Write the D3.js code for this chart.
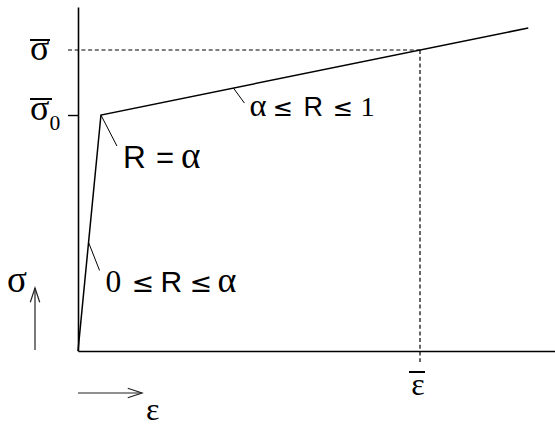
<!DOCTYPE html>
<html>
<head>
<meta charset="utf-8">
<script src="https://cdn.jsdelivr.net/npm/d3@7"></script>
<style>
  html, body { margin: 0; padding: 0; background: #fff; }
  svg { display: block; }
  .serif { font-family: "Liberation Serif", "DejaVu Serif", serif; }
  .sans { font-family: "Liberation Sans", Arial, sans-serif; }
  .rel { font-family: "DejaVu Sans", sans-serif; }
</style>
</head>
<body>
<svg id="chart" width="555" height="426"></svg>
<script>
// Bilinear stress–strain curve (normalised units)
const strain = [0, 0.048, 0.942];      // origin, yield, end of hardening branch
const stress = [0, 0.686, 0.939];
const strainBar = 0.7155;              // ε̄
const stressBar = 0.875;               // σ̄
const stressYield = stress[1];         // σ̄0

// Segment labels: segment index, position along it,
// text pieces as [text, font class, x offset, size factor]
const segLabels = [
  { seg: 0, t: 0.46, size: 30, dx: 11, dy: 28, tx: 17, ty: 50,
    parts: [["0", "serif", 0, 1.05], ["≤", "rel", 26, 0.9], ["R", "sans", 55, 1], ["≤", "rel", 84, 0.9], ["α", "serif", 112, 1.2]] },
  { seg: 0, t: 1.0, size: 31, dx: 16, dy: 31, tx: 22, ty: 53,
    parts: [["R", "sans", 0, 1.02], ["=", "sans", 33, 1], ["α", "serif", 58, 1.2]] },
  { seg: 1, t: 0.31, size: 27, dx: 11, dy: 15, tx: 16, ty: 28,
    parts: [["α", "serif", 0, 1.2], ["≤", "rel", 23, 0.9], ["R", "sans", 54, 1], ["≤", "rel", 83, 0.9], ["1", "serif", 111, 1.05]] }
];

const svg = d3.select("#chart");
const x = d3.scaleLinear().domain([0, 1]).range([78, 556]);
const y = d3.scaleLinear().domain([0, 1]).range([351, 7]);

// Axes
const yAxis = d3.axisLeft(y).tickValues([stressYield]).tickSize(10).tickSizeOuter(0).tickFormat("");
const xAxis = d3.axisBottom(x).tickValues([]).tickSizeOuter(0);
const gy = svg.append("g").attr("transform", `translate(${x(0)},0)`).call(yAxis);
const gx = svg.append("g").attr("transform", `translate(0,${y(0)})`).call(xAxis);
[gy, gx].forEach(g => {
  g.select(".domain").attr("stroke", "#000").attr("stroke-width", 1.6);
  g.selectAll(".tick line").attr("stroke", "#000").attr("stroke-width", 1.4);
});

// Dashed guides to (ε̄, σ̄)
const dash = "4,2.7";
svg.append("line")
  .attr("x1", x(0) - 10).attr("y1", y(stressBar))
  .attr("x2", x(strainBar)).attr("y2", y(stressBar))
  .attr("stroke", "#000").attr("stroke-width", 1.2).attr("stroke-dasharray", dash);
svg.append("line")
  .attr("x1", x(strainBar)).attr("y1", y(stressBar))
  .attr("x2", x(strainBar)).attr("y2", y(0) + 11)
  .attr("stroke", "#000").attr("stroke-width", 1.2).attr("stroke-dasharray", dash);

// Curve
const pts = strain.map((e, i) => [e, stress[i]]);
svg.append("path")
  .datum(pts)
  .attr("d", d3.line().x(d => x(d[0])).y(d => y(d[1])))
  .attr("fill", "none").attr("stroke", "#000").attr("stroke-width", 1.5);

// Leader lines and segment labels
segLabels.forEach(l => {
  const a = pts[l.seg], b = pts[l.seg + 1];
  const px = x(a[0] + (b[0] - a[0]) * l.t);
  const py = y(a[1] + (b[1] - a[1]) * l.t);
  svg.append("line")
    .attr("x1", px).attr("y1", py).attr("x2", px + l.dx).attr("y2", py + l.dy)
    .attr("stroke", "#000").attr("stroke-width", 1);
  const t = svg.append("text")
    .attr("y", py + l.ty)
    .attr("font-size", l.size).attr("fill", "#000");
  l.parts.forEach(p => t.append("tspan")
    .attr("class", p[1]).attr("x", px + l.tx + p[2])
    .attr("font-size", l.size * p[3]).text(p[0]));
});

// Y-axis level labels with overbars
function barLabel(cx, baseline, size, sub, barY, barW) {
  const t = svg.append("text").attr("class", "serif")
    .attr("x", cx).attr("y", baseline).attr("font-size", size).attr("fill", "#000");
  t.append("tspan").text("σ");
  if (sub) t.append("tspan").attr("font-size", size * 0.6).attr("dy", 10).text(sub);
  svg.append("rect").attr("x", cx).attr("y", barY - 1).attr("width", barW).attr("height", 2).attr("fill", "#000");
}
barLabel(30, y(stressBar) + 10, 36, null, y(stressBar) - 10, 20);
barLabel(30, y(stressYield) + 5, 36, "0", y(stressYield) - 16, 22);

// ε̄ label below x axis
svg.append("text").attr("class", "serif")
  .attr("x", x(strainBar) - 2).attr("y", 395).attr("text-anchor", "middle")
  .attr("font-size", 32).attr("fill", "#000").text("ε");
svg.append("rect").attr("x", x(strainBar) - 11).attr("y", 371).attr("width", 16).attr("height", 2).attr("fill", "#000");

// Direction arrows for σ and ε
function arrow(x1, y1, x2, y2) {
  const ang = Math.atan2(y2 - y1, x2 - x1), L = 15, W = 0.32;
  const h = [[x2 - L * Math.cos(ang - W), y2 - L * Math.sin(ang - W)], [x2, y2],
             [x2 - L * Math.cos(ang + W), y2 - L * Math.sin(ang + W)]];
  const g = svg.append("g").attr("stroke", "#222").attr("stroke-width", 1.2).attr("fill", "none");
  g.append("line").attr("x1", x1).attr("y1", y1).attr("x2", x2).attr("y2", y2);
  g.append("polyline").attr("points", h.map(p => p.join(",")).join(" "));
}
arrow(35, 350, 35, 288);
arrow(78, 393, 142, 393);
svg.append("text").attr("class", "serif").attr("x", 7).attr("y", 292)
  .attr("font-size", 37).attr("fill", "#000").text("σ");
svg.append("text").attr("class", "serif").attr("x", 146).attr("y", 420)
  .attr("font-size", 32).attr("fill", "#000").text("ε");
</script>
</body>
</html>
